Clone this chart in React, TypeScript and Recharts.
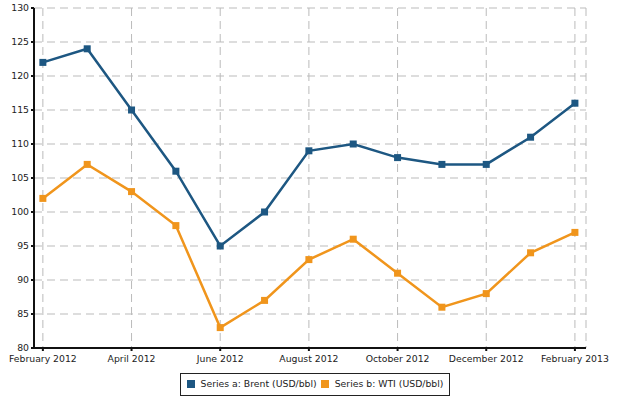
import { LineChart, Line, XAxis, YAxis, CartesianGrid, Legend } from 'recharts'

const months = [
	'February 2012', 'March 2012', 'April 2012', 'May 2012', 'June 2012', 'July 2012', 'August 2012',
	'September 2012', 'October 2012', 'November 2012', 'December 2012', 'January 2013', 'February 2013',
]
const brent = [122, 124, 115, 106, 95, 100, 109, 110, 108, 107, 107, 111, 116]
const wti = [102, 107, 103, 98, 83, 87, 93, 96, 91, 86, 88, 94, 97]
const yTicks = [80, 85, 90, 95, 100, 105, 110, 115, 120, 125, 130]
const xTicks = [0, 2, 4, 6, 8, 10, 12]

const BLUE = '#1d5782'
const ORANGE = '#f0951c'

const data = months.map((m, i) => ({ idx: i, name: m, brent: brent[i], wti: wti[i] }))

const SquareDot = (color: string) => (props: any) => {
	const { cx, cy, index } = props
	if (cx == null || cy == null) return <g key={index} />
	return <rect key={index} x={cx - 3.5} y={cy - 3.5} width={7} height={7} fill={color} />
}

const LegendBox = () => (
	<div
		style={{
			display: 'inline-flex',
			alignItems: 'center',
			border: '1px solid #222',
			padding: '4px 6px 6px 6px',
			fontFamily: 'DejaVu Sans, sans-serif',
			fontSize: 9.3,
			color: '#222',
			background: '#fff',
		}}
	>
		<span style={{ width: 8, height: 8, background: BLUE, display: 'inline-block', marginRight: 6 }} />
		<span style={{ marginRight: 4 }}>Series a: Brent (USD/bbl)</span>
		<span style={{ width: 8, height: 8, background: ORANGE, display: 'inline-block', marginRight: 6 }} />
		<span>Series b: WTI (USD/bbl)</span>
	</div>
)

const tickStyle = { fontSize: 9.3, fill: '#222', fontFamily: 'DejaVu Sans, sans-serif' }

export default function App() {
	return (
		<div style={{ position: 'absolute', left: 0, top: 0, background: '#fff' }}>
			<LineChart width={630} height={397} data={data} margin={{ top: 8, right: 44, bottom: 6, left: 0 }}>
				<CartesianGrid stroke="#bbb" strokeDasharray="8 5" />
				<XAxis
					dataKey="idx"
					type="number"
					domain={[-0.2, 12.25]}
					ticks={xTicks}
					tickFormatter={(v: number) => months[v]}
					interval={0}
					stroke="#111"
					strokeWidth={2}
					tickSize={3}
					tick={{ ...tickStyle, dy: 2 }}
					height={20}
				/>
				<YAxis
					domain={[80, 130]}
					ticks={yTicks}
					interval={0}
					width={34}
					stroke="#111"
					strokeWidth={2}
					tickSize={3}
					tick={tickStyle}
				/>
				<Legend
					content={<LegendBox />}
					wrapperStyle={{ position: 'absolute', top: 373, left: 0, width: 630, textAlign: 'center' }}
				/>
				<Line
					dataKey="brent"
					stroke={BLUE}
					strokeWidth={2.5}
					dot={SquareDot(BLUE)}
					isAnimationActive={false}
				/>
				<Line
					dataKey="wti"
					stroke={ORANGE}
					strokeWidth={2.5}
					dot={SquareDot(ORANGE)}
					isAnimationActive={false}
				/>
			</LineChart>
		</div>
	)
}
